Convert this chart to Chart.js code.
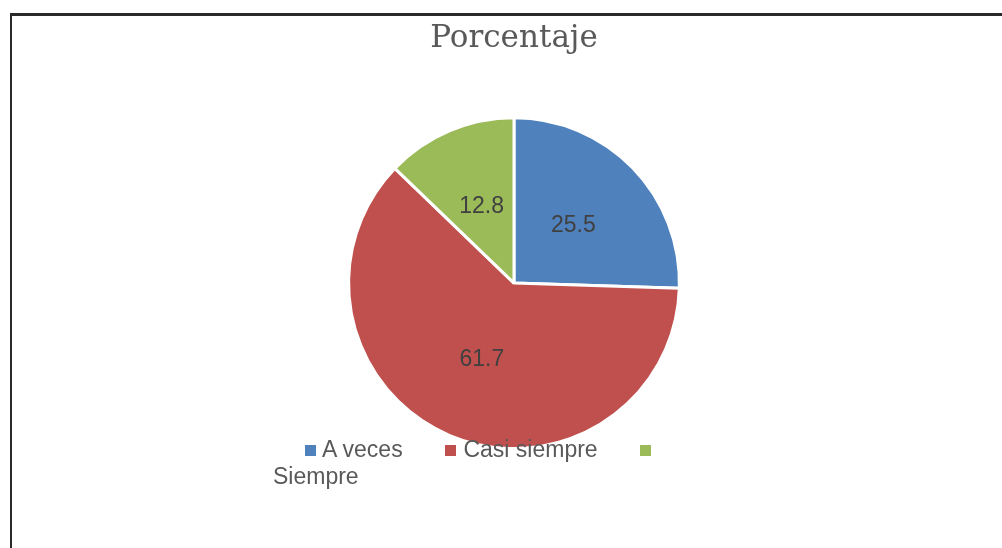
<!DOCTYPE html>
<html lang="es">
<head>
  <meta charset="UTF-8">
  <title>Porcentaje</title>
  <script src="https://cdn.jsdelivr.net/npm/chart.js"></script>
  <style>
    html, body { margin: 0; padding: 0; background: #fff; }
    body { width: 1002px; height: 548px; position: relative; overflow: hidden; }
    /* frame of the pasted chart: only top and left edges are visible */
    .frame {
      position: absolute; left: 10px; top: 13px; right: -10px; bottom: -10px;
      border-top: 3px solid #2a2a2a; border-left: 2px solid #2a2a2a;
    }
    #wrap { position: absolute; left: 0; top: 0; width: 1002px; height: 548px; }
    /* legend sits over the bottom of the pie, like the original */
    .legend {
      position: absolute; left: 273px; top: 436px; width: 395px;
      text-indent: 32px; line-height: 27px;
      font: 23px "Liberation Sans", Arial, sans-serif; color: #595959;
    }
    .legend .item { margin-right: 36px; }
    .legend .mk { display: inline-block; width: 11px; height: 11px; margin-right: 1px; vertical-align: 1px; }
  </style>
</head>
<body>
  <div class="frame"></div>
  <div id="wrap"><canvas id="pie"></canvas></div>
  <div class="legend" id="legend"></div>

  <script>
    const labels = ['A veces', 'Casi siempre', 'Siempre'];
    const values = [25.5, 61.7, 12.8];
    const colors = ['#4F81BD', '#C0504D', '#9BBB59'];

    // values written in the middle of each slice
    const sliceLabels = {
      id: 'sliceLabels',
      afterDatasetsDraw(chart) {
        const ctx = chart.ctx;
        const meta = chart.getDatasetMeta(0);
        ctx.save();
        ctx.font = '23px "Liberation Sans", Arial, sans-serif';
        ctx.fillStyle = '#404040';
        ctx.textAlign = 'center';
        ctx.textBaseline = 'middle';
        meta.data.forEach((arc, i) => {
          const p = arc.getCenterPoint();
          ctx.fillText(String(values[i]), p.x, p.y);
        });
        ctx.restore();
      }
    };

    new Chart(document.getElementById('pie'), {
      type: 'pie',
      data: {
        labels: labels,
        datasets: [{
          data: values,
          backgroundColor: colors,
          borderColor: '#ffffff',
          borderWidth: 3
        }]
      },
      options: {
        responsive: true,
        maintainAspectRatio: false,
        animation: false,
        layout: { padding: { top: 0, left: 26, right: 0, bottom: 98 } },
        plugins: {
          legend: { display: false },
          tooltip: { enabled: false },
          title: {
            display: true,
            text: 'Porcentaje',
            color: '#595959',
            font: { family: '"DejaVu Serif", serif', size: 31, weight: 'normal', lineHeight: 1.2 },
            padding: { top: 20, bottom: 59 }
          }
        }
      },
      plugins: [sliceLabels]
    });

    // legend built from the same arrays
    const lg = document.getElementById('legend');
    labels.forEach((name, i) => {
      lg.innerHTML += `<span class="item"><span class="mk" style="background:${colors[i]}"></span> ${name}</span> `;
    });
  </script>
</body>
</html>
